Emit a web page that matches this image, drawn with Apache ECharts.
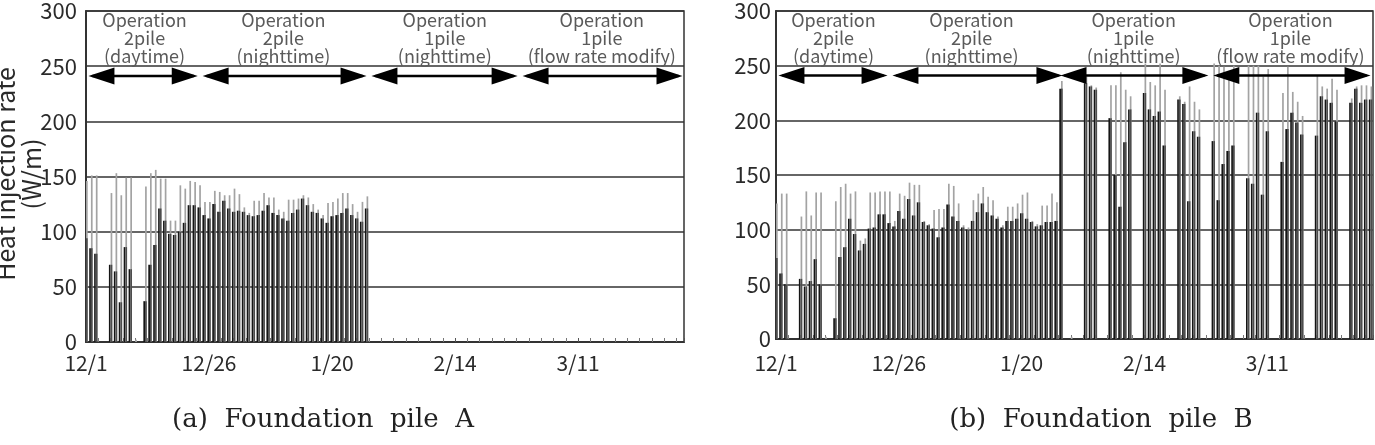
<!DOCTYPE html>
<html><head><meta charset="utf-8">
<script src="https://cdn.jsdelivr.net/npm/echarts@6/dist/echarts.min.js"></script>
<style>html,body{margin:0;padding:0;background:#fff}#c{width:1375px;height:445px}</style>
</head><body><div id="c"></div>
<script>
// ---- data (day index 0 = 12/1) ----
const tickDays = [0, 25, 50, 75, 100];
const tickLabels = ['12/1', '12/26', '1/20', '2/14', '3/11'];

const pileA_peak = [
 146,151,151,0,0,135,153,133,149,149,2,0,141,153,156,148,
 148,110,110,142,139,146,145,142,127,127,137,136,133,133,139,134,
 122,117,128,128,135,131,131,120,118,129,129,130,133,131,125,120,
 115,126,127,130,135,135,125,118,127,132,0,0,0,0,0,0,
 0,0,0,0,0,0,0,0,0,0,0,0,0,0,0,0,
 0,0,0,0,0,0,0,0,0,0,0,0,0,0,0,0,
 0,0,0,0,0,0,0,0,0,0,0,0,0,0,0,0,
 0,0,0,0,0,0,0,0,0,0
];
const pileA_mean = [
 94,85,80,0,0,70,64,36,86,66,0,0,37,70,88,121,
 110,98,97,100,108,124,124,122,115,112,125,118,128,121,118,119,
 118,115,114,115,119,124,117,115,112,110,117,120,130,124,118,117,
 112,108,114,115,117,121,115,112,109,121,0,0,0,0,0,0,
 0,0,0,0,0,0,0,0,0,0,0,0,0,0,0,0,
 0,0,0,0,0,0,0,0,0,0,0,0,0,0,0,0,
 0,0,0,0,0,0,0,0,0,0,0,0,0,0,0,0,
 0,0,0,0,0,0,0,0,0,0
];
const pileB_peak = [
 124,133,133,0,0,112,135,113,134,134,2,0,126,139,142,133,
 135,90,92,134,134,135,135,135,108,133,131,143,141,141,108,105,
 118,119,119,142,140,124,104,102,127,133,139,130,127,112,104,121,
 121,124,132,134,108,105,122,122,133,125,236,0,2,0,0,240,
 232,230,0,0,232,232,244,228,222,0,0,252,235,232,252,228,
 0,0,222,217,231,217,210,0,0,252,250,249,237,250,0,0,
 250,250,250,240,247,0,0,225,249,226,217,204,0,0,241,231,
 229,238,228,0,0,220,231,232,232,231
];
const pileB_mean = [
 74,60,50,0,0,55,48,53,73,50,0,0,19,75,84,110,
 96,81,87,101,102,114,114,106,103,117,110,128,113,125,107,104,
 101,93,102,123,112,108,102,100,108,116,124,116,113,110,102,108,
 108,110,115,110,107,103,104,107,107,108,229,0,0,0,0,234,
 231,228,0,0,202,150,121,180,210,0,0,225,210,204,208,177,
 0,0,219,215,126,190,185,0,0,181,127,160,172,177,0,0,
 147,142,207,132,190,0,0,162,192,207,198,187,0,0,186,222,
 219,216,199,0,0,216,229,216,219,219
];

const annotText = [
 'Operation\n2pile\n(daytime)',
 'Operation\n2pile\n(nighttime)',
 'Operation\n1pile\n(nighttime)',
 'Operation\n1pile\n(flow rate modify)'
];
const annotA_start  = [0.5, 23.7, 58.0, 88.7];
const annotA_end    = [22.7, 57.0, 87.7, 121.2];
const annotA_center = [11.9, 40.1, 72.9, 104.8];
const annotB_start  = [0.5, 23.7, 57.9, 89.0];
const annotB_end    = [22.7, 58.3, 88.0, 121.0];
const annotB_center = [11.7, 39.8, 72.8, 104.7];

// ---- chart ----
const chart = echarts.init(document.getElementById('c'), null, {renderer: 'canvas'});
const FONT = '"Noto Sans CJK JP", "Noto Sans", sans-serif';
const ARROW_Y = 241, LABEL_Y = 275.5;

function xAxisCfg(gi, margin) {
  return {
    type: 'value', gridIndex: gi, min: 0, max: 121.5, interval: 25,
    axisLine: {show: true, lineStyle: {color: '#333', width: 2}},
    axisTick: {show: true, inside: true, length: 4, lineStyle: {color: '#555'}},
    minorTick: {show: true, splitNumber: 10, length: 4, lineStyle: {color: '#777'}},
    splitLine: {show: false},
    axisLabel: {
      margin: margin, fontSize: 21, color: '#2a2a2a', fontFamily: FONT,
      showMaxLabel: false,
      formatter: v => { const k = tickDays.indexOf(v); return k >= 0 ? tickLabels[k] : ''; }
    }
  };
}
function yAxisCfg(gi, margin) {
  return {
    type: 'value', gridIndex: gi, min: 0, max: 300, interval: 50,
    axisLine: {show: true, lineStyle: {color: '#333', width: 2}},
    axisTick: {show: false},
    splitLine: {show: true, lineStyle: {color: '#333', width: 1.5}},
    axisLabel: {margin: margin, fontSize: 22, color: '#2a2a2a', fontFamily: FONT}
  };
}
// one day: black column (mean) on the left, gray column (peak) on the right,
// the gray column is dark up to the mean and light above it
function dayRender(params, api) {
  const d = api.value(0), m = api.value(1), p = api.value(2);
  const base = api.coord([d, 0]);
  const tm = api.coord([d, m]);
  const tp = api.coord([d, p]);
  const td = api.coord([d, Math.min(m, p)]);
  const W = 1.7;
  return {
    type: 'group',
    children: [
      {type: 'rect', shape: {x: base[0] - W, y: tm[1], width: W, height: base[1] - tm[1]}, style: {fill: '#151515'}},
      {type: 'rect', shape: {x: base[0], y: tp[1], width: W, height: base[1] - tp[1]}, style: {fill: '#a3a3a3'}},
      {type: 'rect', shape: {x: base[0], y: td[1], width: W, height: base[1] - td[1]}, style: {fill: '#4d4d4d'}}
    ]
  };
}
function annotRender(params, api) {
  const s = api.coord([api.value(0), ARROW_Y]);
  const e = api.coord([api.value(1), ARROW_Y]);
  const c = api.coord([api.value(2), LABEL_Y]);
  const L = 26, H = 8.5, y = s[1];
  return {
    type: 'group',
    children: [
      {type: 'line', shape: {x1: s[0] + 4, y1: y, x2: e[0] - 4, y2: y}, style: {stroke: '#000', lineWidth: 2.5}},
      {type: 'polygon', shape: {points: [[s[0], y], [s[0] + L, y - H], [s[0] + L, y + H]]}, style: {fill: '#000'}},
      {type: 'polygon', shape: {points: [[e[0], y], [e[0] - L, y - H], [e[0] - L, y + H]]}, style: {fill: '#000'}},
      {type: 'text', x: c[0], y: c[1], style: {
        text: annotText[params.dataIndex], fill: '#5a5a5a', fontSize: 18, fontFamily: FONT,
        align: 'center', verticalAlign: 'middle', lineHeight: 18}}
    ]
  };
}
const dayData = (mean, peak) => mean.map((m, i) => [i, m, peak[i]]);
function annotData(st, en, ce) { return st.map((s, i) => [s, en[i], ce[i]]); }

chart.setOption({
  animation: false,
  backgroundColor: '#fff',
  grid: [
    {left: 86, top: 7, width: 598, height: 335, show: true, borderColor: '#333', borderWidth: 1.5},
    {left: 776, top: 7, width: 597, height: 332, show: true, borderColor: '#333', borderWidth: 1.5}
  ],
  xAxis: [xAxisCfg(0, 11), xAxisCfg(1, 14)],
  yAxis: [yAxisCfg(0, 9), yAxisCfg(1, 5)],
  series: [
    {type: 'custom', xAxisIndex: 0, yAxisIndex: 0, renderItem: dayRender, clip: true,
     encode: {x: 0, y: [1, 2]}, data: dayData(pileA_mean, pileA_peak)},
    {type: 'custom', xAxisIndex: 1, yAxisIndex: 1, renderItem: dayRender, clip: true,
     encode: {x: 0, y: [1, 2]}, data: dayData(pileB_mean, pileB_peak)},
    {type: 'custom', xAxisIndex: 0, yAxisIndex: 0, renderItem: annotRender, clip: false, z: 10,
     data: annotData(annotA_start, annotA_end, annotA_center)},
    {type: 'custom', xAxisIndex: 1, yAxisIndex: 1, renderItem: annotRender, clip: false, z: 10,
     data: annotData(annotB_start, annotB_end, annotB_center)}
  ],
  graphic: [
    {type: 'text', x: 18, y: 174, rotation: Math.PI / 2, style: {
      text: 'Heat injection rate\n(W/m)', fill: '#2a2a2a', fontSize: 25, fontFamily: FONT,
      align: 'center', verticalAlign: 'middle', lineHeight: 26}},
    {type: 'text', x: 323, y: 420, style: {
      text: '(a)  Foundation  pile  A', fill: '#222', fontSize: 26, fontFamily: '"DejaVu Serif", serif',
      align: 'center', verticalAlign: 'middle'}},
    {type: 'text', x: 1101, y: 420, style: {
      text: '(b)  Foundation  pile  B', fill: '#222', fontSize: 26, fontFamily: '"DejaVu Serif", serif',
      align: 'center', verticalAlign: 'middle'}}
  ]
});
</script></body></html>
